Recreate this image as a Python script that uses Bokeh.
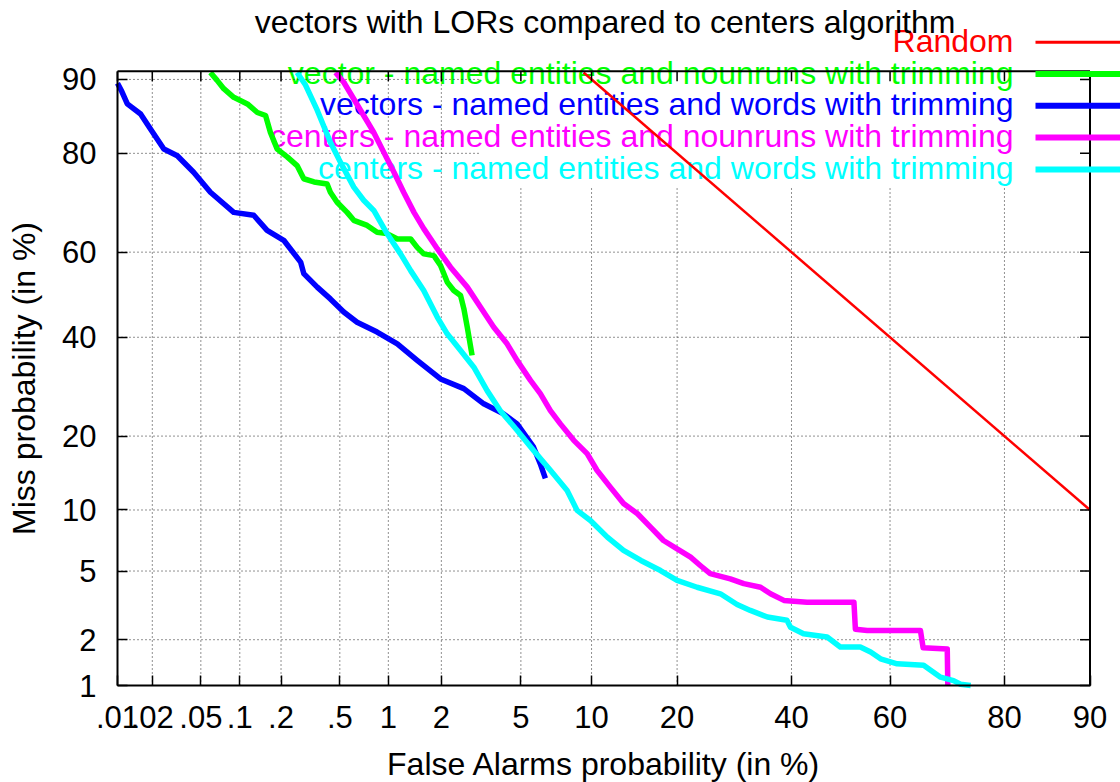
import math
from statistics import NormalDist
from bokeh.plotting import figure
from bokeh.models import FixedTicker, Range1d, Label
from bokeh.embed import file_html
from bokeh.resources import INLINE

# ---------------- data (percent values) ----------------
x_tick_values = [0.01, 0.02, 0.05, 0.1, 0.2, 0.5, 1, 2, 5, 10, 20, 40, 60, 80, 90]
x_tick_labels = [".01", ".02", ".05", ".1", ".2", ".5", "1", "2", "5", "10", "20", "40", "60", "80", "90"]
y_tick_values = [1, 2, 5, 10, 20, 40, 60, 80, 90]
y_tick_labels = ["1", "2", "5", "10", "20", "40", "60", "80", "90"]

random_fa = [9.3, 90.0]
random_miss = [90.7, 10.0]

green_fa = [0.0595, 0.0671, 0.0755, 0.090, 0.114, 0.135, 0.155, 0.168, 0.188, 0.221,
            0.259, 0.288, 0.338, 0.413, 0.434, 0.48, 0.557, 0.614, 0.744, 0.856,
            0.982, 1.13, 1.35, 1.47, 1.60, 1.82, 1.98, 2.15, 2.33, 2.53,
            2.63, 2.74, 2.90]
green_miss = [90.7, 89.9, 89.0, 88.0, 87.2, 86.1, 85.7, 83.3, 80.7, 79.4,
              77.9, 75.5, 74.9, 74.5, 72.9, 70.9, 68.8, 67.1, 66.0, 64.5,
              64.2, 63.0, 63.0, 61.1, 59.6, 59.2, 56.9, 53.0, 51.0, 49.8,
              46.7, 42.3, 35.9]

blue_fa = [0.0100, 0.0109, 0.0122, 0.0159, 0.0193, 0.0250, 0.0323, 0.0438, 0.0595, 0.090,
           0.127, 0.159, 0.209, 0.274, 0.288, 0.355, 0.434, 0.53, 0.644, 0.856,
           1.13, 1.47, 1.98, 2.63, 3.32, 4.15, 4.80, 5.71, 6.12, 6.44]
blue_miss = [89.6, 88.7, 87.2, 85.9, 83.8, 80.7, 79.6, 76.7, 72.9, 68.8,
             68.2, 64.9, 62.7, 57.7, 55.0, 51.8, 49.0, 45.9, 43.5, 41.2,
             38.5, 34.8, 30.8, 28.8, 25.8, 23.9, 22.1, 18.2, 15.7, 13.7]

magenta_fa = [0.469, 0.53, 0.614, 0.708, 0.817, 0.938, 1.08, 1.23, 1.41, 1.60,
              1.90, 2.24, 2.74, 3.20, 3.72, 4.31, 4.80, 5.53, 6.12, 6.77,
              7.47, 8.49, 9.61, 10.5, 11.8, 13.2, 14.8, 16.4, 18.1, 20.0,
              22.0, 23.5, 25.1, 28.5, 30.9, 34.0, 35.9, 38.5, 43.1, 52.7,
              53.0, 55.4, 65.9, 66.4, 70.8, 70.9]
magenta_miss = [90.7, 89.7, 87.8, 85.7, 83.3, 80.2, 76.7, 72.9, 68.8, 65.3,
                60.8, 56.5, 51.8, 47.0, 42.3, 38.5, 34.8, 30.5, 27.8, 24.5,
                22.1, 19.3, 17.2, 14.8, 12.6, 10.7, 9.61, 8.32, 7.17, 6.52,
                5.91, 5.35, 4.84, 4.54, 4.27, 4.08, 3.75, 3.44, 3.36, 3.36,
                2.32, 2.28, 2.28, 1.78, 1.75, 1.0]

cyan_fa = [0.259, 0.296, 0.355, 0.434, 0.504, 0.614, 0.708, 0.817, 0.982, 1.18,
           1.35, 1.60, 1.90, 2.15, 2.53, 2.96, 3.45, 4.00, 4.80, 5.71,
           6.77, 7.97, 8.76, 9.90, 11.5, 13.2, 15.2, 17.7, 20.0, 23.0,
           26.8, 29.7, 32.1, 35.3, 39.1, 39.8, 42.4, 47.2, 49.9, 54.0,
           56.1, 58.1, 61.4, 66.5, 67.8, 69.6, 71.9, 73.1, 74.8]
cyan_miss = [90.7, 89.4, 86.4, 81.8, 78.5, 73.9, 71.3, 69.2, 64.2, 59.6,
             55.7, 51.0, 44.7, 40.8, 37.0, 33.3, 28.4, 24.5, 21.0, 17.7,
             14.8, 12.2, 9.96, 8.95, 7.45, 6.40, 5.68, 5.03, 4.45, 4.08,
             3.75, 3.26, 3.01, 2.75, 2.63, 2.39, 2.18, 2.08, 1.80, 1.80,
             1.67, 1.51, 1.40, 1.37, 1.27, 1.14, 1.08, 1.02, 1.0]

series_names = ["Random",
                "vector - named entities and nounruns with trimming",
                "vectors - named entities and words with trimming",
                "centers - named entities and nounruns with trimming",
                "centers - named entities and words with trimming"]
series_fa = [random_fa, green_fa, blue_fa, magenta_fa, cyan_fa]
series_miss = [random_miss, green_miss, blue_miss, magenta_miss, cyan_miss]
series_colors = ["#ff0000", "#00ff00", "#0000ff", "#ff00ff", "#00ffff"]
series_widths = [2.5, 5.5, 5.5, 5.5, 5.5]

title_text = "vectors with LORs compared to centers algorithm"
x_title = "False Alarms probability (in %)"
y_title = "Miss probability (in %)"

# ---------------- normal-deviate (DET) scale ----------------
ND = NormalDist()
def dev(p):
    return ND.inv_cdf(p / 100.0)
def devs(seq):
    return [dev(v) for v in seq]

XS, XE = dev(0.01), dev(90.0)          # plot box, x
YS, YE = dev(1.0), dev(90.0) + 0.049   # plot box, y

W, H = 1120, 782
BX0, BX1 = 117.0, 1089.5    # box left / right on the canvas
BY0, BY1 = 70.7, 685.0      # box top / bottom on the canvas
SX = (BX1 - BX0) / (XE - XS)
SY = (BY1 - BY0) / (YE - YS)

def lx(X):  # canvas pixel -> data x (layout helper)
    return XS + (X - BX0) / SX
def ly(Y):  # canvas pixel -> data y (layout helper)
    return YS + (BY1 - Y) / SY

FONT = "Liberation Sans"

p = figure(width=W, height=H, title=None,
           x_range=Range1d(lx(0), lx(W)), y_range=Range1d(ly(H), ly(0)),
           output_backend="svg", toolbar_location=None, min_border=0)
p.min_border_left = p.min_border_right = p.min_border_top = p.min_border_bottom = 0
p.background_fill_color = "white"
p.border_fill_color = "white"
p.outline_line_color = None
p.xgrid.visible = False
p.ygrid.visible = False

xt = devs(x_tick_values)
yt = devs(y_tick_values)

xa, ya = p.xaxis[0], p.yaxis[0]
xa.fixed_location = YS
ya.fixed_location = XS
xa.bounds = (XS, XE)
ya.bounds = (YS, YE)
for ax, ticks, labels in ((xa, xt, x_tick_labels), (ya, yt, y_tick_labels)):
    ax.ticker = FixedTicker(ticks=ticks)
    ax.major_label_overrides = {t: l for t, l in zip(ticks, labels)}
    ax.major_tick_in = 10
    ax.major_tick_out = 0
    ax.minor_tick_line_color = None
    ax.major_tick_line_color = "black"
    ax.major_tick_line_width = 1.5
    ax.axis_line_color = "black"
    ax.axis_line_width = 2
    ax.major_label_text_font = FONT
    ax.major_label_text_font_size = "31px"
    ax.major_label_text_color = "black"
    ax.axis_label_text_font = FONT
    ax.axis_label_text_font_size = "32px"
    ax.axis_label_text_font_style = "normal"
    ax.axis_label_text_color = "black"
xa.major_label_standoff = 20
ya.major_label_standoff = 21
xa.axis_label = x_title
ya.axis_label = y_title
xa.axis_label_standoff = 15
ya.axis_label_standoff = 17

# dotted grid; hidden behind the (opaque) key box area
key_left = lx(478)
key_bottom = ly(185)
p.segment(x0=xt, y0=[YS] * len(xt), x1=xt,
          y1=[key_bottom if x > key_left else YE for x in xt],
          line_color="#222222", line_dash="1 3", line_width=1)
p.segment(x0=[XS] * len(yt), y0=yt,
          x1=[key_left if y > key_bottom else XE for y in yt], y1=yt,
          line_color="#222222", line_dash="1 3", line_width=1)

# curves
for fa, miss, col, w in zip(series_fa, series_miss, series_colors, series_widths):
    p.line(devs(fa), devs(miss), line_color=col, line_width=w,
           line_join="round", line_cap="butt")

# plot border (top and right; bottom/left are the axes) + mirrored ticks
p.segment(x0=[XS, XE], y0=[YE, YS], x1=[XE, XE], y1=[YE, YE],
          line_color="black", line_width=2)
tdx = 10 / SX
tdy = 10 / SY
p.segment(x0=xt, y0=[YE] * len(xt), x1=xt, y1=[YE - tdy] * len(xt),
          line_color="black", line_width=1.5)
p.segment(x0=[XE] * len(yt), y0=yt, x1=[XE - tdx] * len(yt), y1=yt,
          line_color="black", line_width=1.5)

# key (gnuplot style: text, then sample line)
row0, drow = 41.7, 31.8
rows = [row0 + i * drow for i in range(len(series_names))]
p.segment(x0=[lx(1035)] * len(rows), y0=[ly(r) for r in rows],
          x1=[lx(1120)] * len(rows), y1=[ly(r) for r in rows],
          line_color=series_colors, line_width=[w + 0.5 for w in series_widths])
for name, col, r in zip(series_names, series_colors, rows):
    p.add_layout(Label(x=lx(1013), y=ly(r - 1.5), text=name, text_align="right",
                       text_baseline="alphabetic", text_font=FONT,
                       text_font_size="32px", text_color=col, level="underlay"))

# title
p.add_layout(Label(x=lx(604.5), y=ly(21), text=title_text, text_align="center",
                   text_baseline="alphabetic", text_font=FONT, text_font_size="32px",
                   text_color="black"))

open("out.html", "w").write(file_html(p, INLINE))
